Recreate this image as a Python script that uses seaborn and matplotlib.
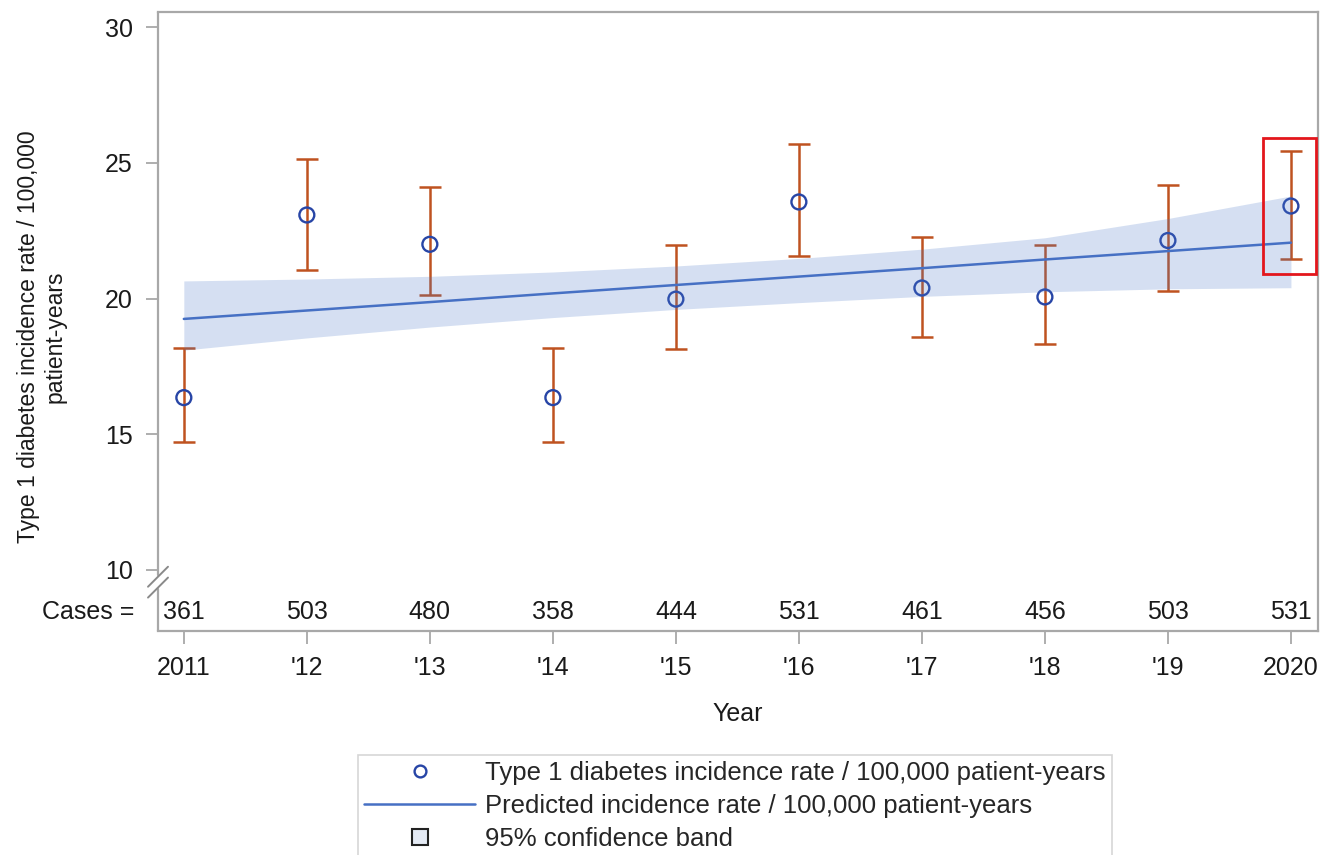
import matplotlib
matplotlib.use("Agg")
import matplotlib.pyplot as plt
import matplotlib.patches as patches
from matplotlib.lines import Line2D
import seaborn as sns
import pandas as pd

# ------------------------------------------------------------------
# data
years = [2011, 2012, 2013, 2014, 2015, 2016, 2017, 2018, 2019, 2020]
year_labels = ['2011', "'12", "'13", "'14", "'15", "'16", "'17", "'18", "'19", '2020']
cases = [361, 503, 480, 358, 444, 531, 461, 456, 503, 531]

rate = [16.35, 23.08, 22.00, 16.35, 19.98, 23.56, 20.39, 20.06, 22.14, 23.41]
ci_low = [14.72, 21.05, 20.12, 14.72, 18.14, 21.58, 18.57, 18.33, 20.28, 21.46]
ci_high = [18.18, 25.13, 24.11, 18.18, 21.97, 25.70, 22.27, 21.99, 24.20, 25.45]

predicted = [19.25, 19.56, 19.87, 20.19, 20.50, 20.81, 21.12, 21.44, 21.75, 22.06]
band_low = [18.10, 18.55, 18.95, 19.30, 19.60, 19.85, 20.08, 20.25, 20.36, 20.40]
band_high = [20.65, 20.72, 20.82, 20.98, 21.20, 21.48, 21.82, 22.24, 22.95, 23.78]

y_ticks = [10, 15, 20, 25, 30]
# ------------------------------------------------------------------

df = pd.DataFrame({'Year': years, 'Rate': rate, 'Low': ci_low, 'High': ci_high,
                   'Pred': predicted, 'BandLow': band_low, 'BandHigh': band_high})

sns.set_style('white')
plt.rcParams['font.family'] = ['Liberation Sans', 'DejaVu Sans']

marker_col = '#2745A6'
line_col = '#4670C4'
err_col = '#BF5220'
axis_col = '#A8A8A8'

fig = plt.figure(figsize=(13.23, 8.55), dpi=100)
ax = fig.add_axes([158 / 1323, 1 - 631 / 855, 1160 / 1323, 619 / 855])

ylo, yhi = 7.75, 30.56
ax.set_xlim(2010.79, 2020.22)
ax.set_ylim(ylo, yhi)

# error bars
ax.errorbar(df['Year'], df['Rate'],
            yerr=[df['Rate'] - df['Low'], df['High'] - df['Rate']],
            fmt='none', ecolor=err_col, elinewidth=1.8, capsize=8, capthick=1.8, zorder=2)

# observed rates
sns.scatterplot(data=df, x='Year', y='Rate', ax=ax, marker='o', s=115,
                facecolor='none', edgecolor=marker_col, linewidth=1.7, zorder=3)

# confidence band (drawn over bars, translucent)
ax.fill_between(df['Year'], df['BandLow'], df['BandHigh'], color='#4A78C8',
                alpha=0.23, linewidth=0, zorder=4)

# predicted line
sns.lineplot(data=df, x='Year', y='Pred', ax=ax, color=line_col, linewidth=1.8, zorder=5)

# highlight box around 2020
ax.add_patch(patches.Rectangle((2019.77, 20.9), 0.43, 5.02, fill=False,
                               edgecolor='#E3161C', linewidth=2, zorder=6))

# cases row
for yr, c in zip(years, cases):
    ax.text(yr, 8.45, str(c), ha='center', va='center', fontsize=18, color='#1a1a1a')
ax.text(-0.02, (8.45 - ylo) / (yhi - ylo), 'Cases =', transform=ax.transAxes,
        ha='right', va='center', fontsize=18, color='#1a1a1a')

# axes styling
ax.set_xticks(years, year_labels)
ax.set_yticks(y_ticks)
ax.tick_params(axis='both', direction='out', length=9, width=1.3, color=axis_col,
               labelsize=18, labelcolor='#1a1a1a', pad=9, left=True, bottom=True)
for name, sp in ax.spines.items():
    sp.set_color(axis_col)
    sp.set_linewidth(1.6)
ax.spines['left'].set_visible(False)

# left spine with axis break below 10
def frac(v):
    return (v - ylo) / (yhi - ylo)

g_top, g_bot = frac(9.80), frac(9.30)
ax.plot([0, 0], [g_top, 1], transform=ax.transAxes, color=axis_col, lw=1.6, clip_on=False)
ax.plot([0, 0], [0, g_bot], transform=ax.transAxes, color=axis_col, lw=1.6, clip_on=False)
dx, dy = 10 / 1160, 10 / 619
for yc in (frac(9.75), frac(9.35)):
    ax.plot([-dx, dx], [yc - dy, yc + dy], transform=ax.transAxes, color='#8a8a8a',
            lw=1.4, clip_on=False)

ax.set_xlabel('Year', fontsize=18, color='#1a1a1a', labelpad=16)
ax.set_ylabel('')
ax.text(-0.1, 0.475, 'Type 1 diabetes incidence rate / 100,000\npatient-years',
        transform=ax.transAxes, rotation=90, ha='center', va='center',
        fontsize=16.5, color='#1a1a1a', linespacing=1.2)

# legend
handles = [
    Line2D([], [], marker='o', linestyle='none', markerfacecolor='none',
           markeredgecolor=marker_col, markeredgewidth=1.7, markersize=8.5),
    Line2D([], [], color=line_col, linewidth=1.8),
    Line2D([], [], marker='s', linestyle='none', markerfacecolor='#E4EAF4',
           markeredgecolor='#222222', markeredgewidth=1.5, markersize=11),
]
labels = ['Type 1 diabetes incidence rate / 100,000 patient-years',
          'Predicted incidence rate / 100,000 patient-years',
          '95% confidence band']
leg = fig.legend(handles, labels, loc='upper left', bbox_to_anchor=(358 / 1323, 1 - 755 / 855),
                 fontsize=18.5, frameon=True, fancybox=False, handlelength=4.3,
                 handletextpad=0.4, labelspacing=0.35, borderpad=0.25, borderaxespad=0)
leg.get_frame().set_edgecolor('#CCCCCC')
leg.get_frame().set_linewidth(1.2)

fig.savefig('out.png', dpi=100)
